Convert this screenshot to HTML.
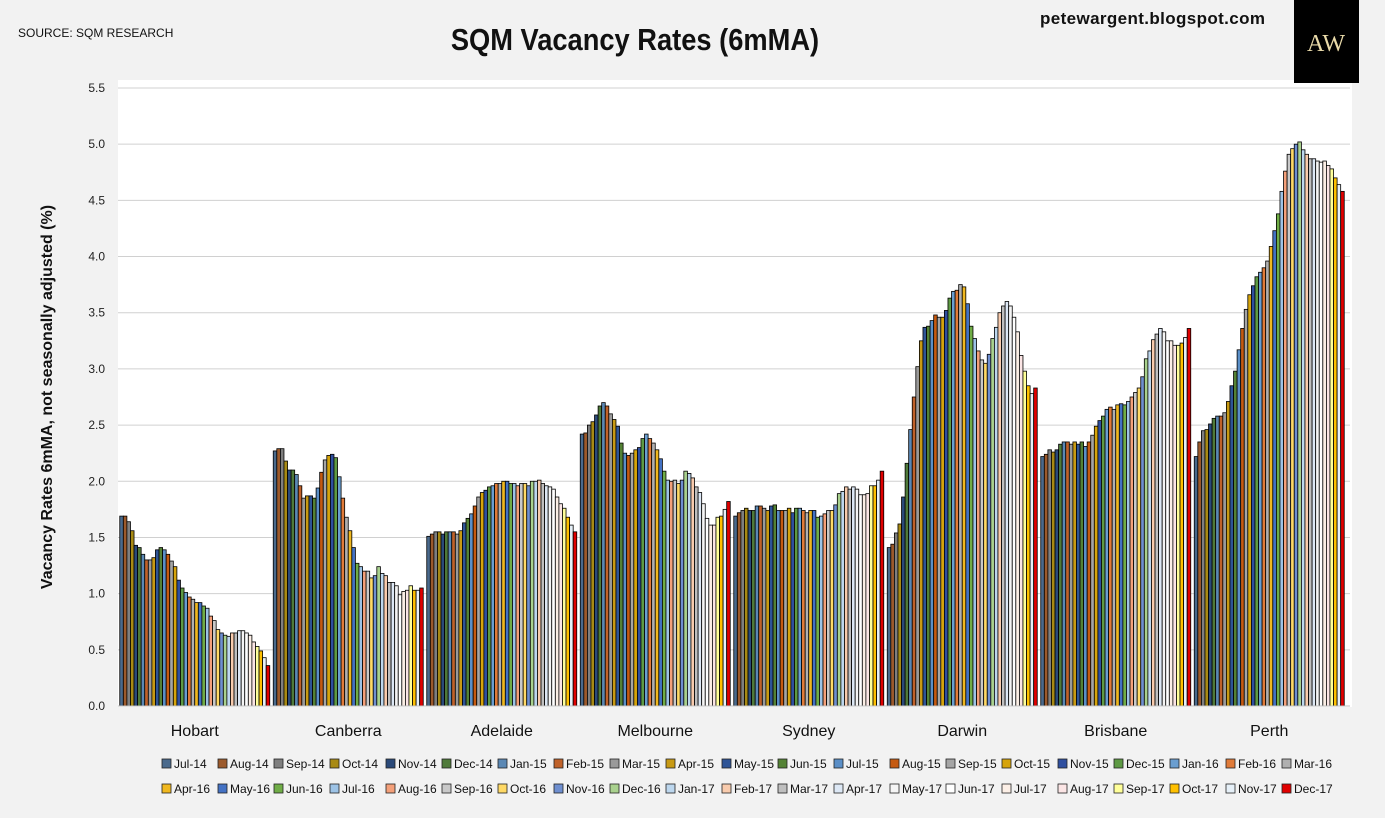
<!DOCTYPE html>
<html><head><meta charset="utf-8"><style>
body{margin:0;width:1385px;height:818px;background:#f2f2f2;overflow:hidden;font-family:"Liberation Sans",sans-serif}
svg{position:absolute;left:0;top:0}
</style></head><body>
<svg id="c" width="1385" height="818"></svg>
<script>
const cities=["Hobart","Canberra","Adelaide","Melbourne","Sydney","Darwin","Brisbane","Perth"];
const months=["Jul-14","Aug-14","Sep-14","Oct-14","Nov-14","Dec-14","Jan-15","Feb-15","Mar-15","Apr-15","May-15","Jun-15","Jul-15","Aug-15","Sep-15","Oct-15","Nov-15","Dec-15","Jan-16","Feb-16","Mar-16","Apr-16","May-16","Jun-16","Jul-16","Aug-16","Sep-16","Oct-16","Nov-16","Dec-16","Jan-17","Feb-17","Mar-17","Apr-17","May-17","Jun-17","Jul-17","Aug-17","Sep-17","Oct-17","Nov-17","Dec-17"];
const colors=["#4a6a8c","#9c5a2c","#7f7f7f","#a88a14","#2b4a7a","#4f7a3a","#5b88b4","#c0622a","#9a9a9a","#c89a14","#2f5597","#548235","#5b8fc7","#c55a11","#a5a5a5","#d6a40c","#2f4f9f","#5e9a44","#6a9ed0","#e07b39","#b0b0b0","#f0b820","#4472c4","#70ad47","#9dc3e6","#f4a07a","#c9c9c9","#ffd966","#6f8fd0","#a9d18e","#bdd7ee","#f8cbad","#bfbfbf","#dde8f5","#f5f5f5","#ffffff","#fcefe6","#fbe5e5","#ffff99","#ffc000","#e6f0f8","#e00000"];
const hobart=[1.69,1.69,1.64,1.56,1.43,1.41,1.35,1.30,1.30,1.32,1.39,1.41,1.39,1.35,1.29,1.24,1.12,1.05,1.01,0.97,0.95,0.92,0.92,0.89,0.87,0.80,0.76,0.68,0.65,0.63,0.62,0.65,0.65,0.67,0.67,0.65,0.63,0.57,0.53,0.49,0.43,0.36];
const canberra=[2.27,2.29,2.29,2.18,2.10,2.10,2.06,1.96,1.85,1.87,1.87,1.85,1.94,2.08,2.19,2.23,2.24,2.21,2.04,1.85,1.68,1.56,1.41,1.27,1.24,1.20,1.20,1.14,1.16,1.24,1.18,1.16,1.10,1.10,1.07,0.99,1.02,1.03,1.07,1.03,1.03,1.05];
const adelaide=[1.51,1.53,1.55,1.55,1.53,1.55,1.55,1.55,1.53,1.56,1.63,1.67,1.71,1.78,1.86,1.90,1.92,1.95,1.96,1.98,1.98,2.00,2.00,1.98,1.98,1.96,1.98,1.98,1.96,2.00,2.00,2.01,1.98,1.96,1.95,1.93,1.86,1.80,1.76,1.68,1.61,1.55];
const melbourne=[2.42,2.43,2.50,2.53,2.59,2.67,2.70,2.67,2.60,2.55,2.49,2.34,2.25,2.23,2.25,2.28,2.30,2.38,2.42,2.38,2.34,2.28,2.20,2.09,2.01,2.00,2.01,1.98,2.01,2.09,2.07,2.03,1.95,1.90,1.80,1.67,1.61,1.61,1.68,1.69,1.75,1.82];
const sydney=[1.69,1.72,1.74,1.76,1.74,1.74,1.78,1.78,1.76,1.74,1.78,1.79,1.74,1.74,1.74,1.76,1.72,1.76,1.76,1.74,1.72,1.74,1.74,1.68,1.69,1.71,1.74,1.74,1.79,1.89,1.91,1.95,1.93,1.95,1.93,1.88,1.88,1.89,1.96,1.96,2.01,2.09];
const darwin=[1.41,1.44,1.54,1.62,1.86,2.16,2.46,2.75,3.02,3.25,3.37,3.38,3.43,3.48,3.46,3.46,3.52,3.63,3.69,3.70,3.75,3.73,3.58,3.38,3.27,3.16,3.08,3.05,3.13,3.27,3.37,3.50,3.56,3.60,3.56,3.46,3.33,3.12,2.98,2.85,2.78,2.83];
const brisbane=[2.22,2.24,2.28,2.26,2.28,2.33,2.35,2.35,2.33,2.35,2.33,2.35,2.31,2.35,2.41,2.49,2.54,2.58,2.64,2.66,2.64,2.68,2.69,2.68,2.71,2.75,2.79,2.83,2.93,3.09,3.16,3.26,3.31,3.36,3.33,3.25,3.25,3.21,3.21,3.23,3.28,3.36];
const perth=[2.22,2.35,2.45,2.46,2.51,2.56,2.58,2.58,2.61,2.71,2.85,2.98,3.17,3.36,3.53,3.66,3.74,3.82,3.86,3.90,3.96,4.09,4.23,4.38,4.58,4.76,4.91,4.96,5.00,5.02,4.95,4.91,4.87,4.87,4.85,4.84,4.85,4.81,4.78,4.70,4.64,4.58];
const series=[hobart,canberra,adelaide,melbourne,sydney,darwin,brisbane,perth];
const yTicks=["0.0","0.5","1.0","1.5","2.0","2.5","3.0","3.5","4.0","4.5","5.0","5.5"];

const NS="http://www.w3.org/2000/svg";
const svg=document.getElementById('c');
const X0=118,X1=1346,Y0=706,YTOP=88,YMAX=5.5;
const y=v=>Y0-(v/YMAX)*(Y0-YTOP);
const gw=(X1-X0)/cities.length, gap=3.5, bw=(gw-gap)/months.length;
const xb=(g,i)=>X0+g*gw+gap/2+i*bw;
function el(t,a,txt){const e=document.createElementNS(NS,t);for(const k in a)e.setAttribute(k,a[k]);if(txt!=null)e.textContent=txt;svg.appendChild(e);return e;}

const plot=el('rect',{x:X0,y:80,width:X1-X0+6,height:Y0-80+1,fill:'#ffffff'});


yTicks.forEach(t=>{const v=parseFloat(t);
 const g=el('line',{x1:X0,x2:X1+4,y1:y(v),y2:y(v),stroke:'#d0d0d0','stroke-width':1});
 
 
 const l=el('text',{x:105,y:y(v)+4,'text-anchor':'end','font-size':12,fill:'#222'},t);
 
 
});
series.forEach((s,g)=>{
 s.forEach((v,i)=>{
  const r=el('rect',{x:xb(g,i),y:y(v),width:bw,height:Y0-y(v),fill:colors[i],stroke:'#000','stroke-width':0.8});
  
  
 });
 const c=el('text',{x:X0+g*gw+gw/2,y:736,'text-anchor':'middle','font-size':16,fill:'#111'},cities[g]);
 
 
});
const ax=el('line',{x1:X0,x2:X1+4,y1:Y0,y2:Y0,stroke:'#bfbfbf','stroke-width':1});



months.forEach((m,i)=>{
 const row=i<21?0:1, k=i%21;
 const lx=162+k*56, ly=row?793:768;
 const sq=el('rect',{x:lx,y:ly-9,width:9,height:9,fill:colors[i],stroke:'#222','stroke-width':0.8});
 
 
 const t=el('text',{x:lx+12,y:ly,'font-size':12,fill:'#111'},m);
 
 
});

const tt=el('text',{x:635,y:50,'text-anchor':'middle','font-size':31,'font-weight':'bold',fill:'#111',transform:'translate(635 0) scale(0.88 1) translate(-635 0)'},'SQM Vacancy Rates (6mMA)');


const src=el('text',{x:18,y:37,'font-size':12,fill:'#111'},'SOURCE: SQM RESEARCH');


const bl=el('text',{x:1040,y:24,'font-size':17,'font-weight':'bold',fill:'#111',textLength:225},'petewargent.blogspot.com');


const lg=el('rect',{x:1294,y:0,width:65,height:83,fill:'#000'});


const lt=el('text',{x:1326,y:51,'text-anchor':'middle','font-size':24,fill:'#e8d9a8','font-family':'Liberation Serif, serif'},'AW');


const yt=el('text',{x:0,y:0,'text-anchor':'middle','font-size':16,'font-weight':'bold',fill:'#111',transform:'translate(52 397) rotate(-90)'},'Vacancy Rates 6mMA, not seasonally adjusted (%)');


</script>
</body></html>
